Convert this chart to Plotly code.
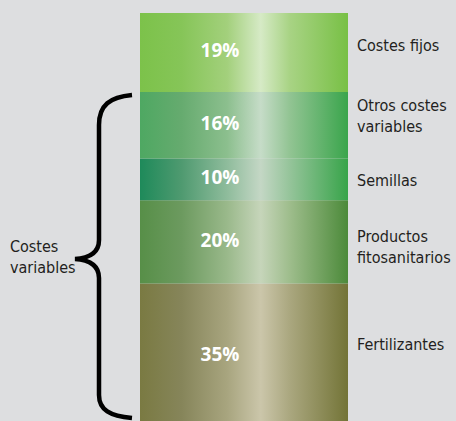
import plotly.graph_objects as go

# ---- data (bottom to top) ----
categories = ["Fertilizantes", "Productos<br>fitosanitarios", "Semillas",
              "Otros costes<br>variables", "Costes fijos"]
values = [35, 20, 10, 16, 19]
pct_labels = [f"{v}%" for v in values]
group_label = "Costes<br>variables"

# ---- style ----
BG = "#dddee0"
TXT = "#231f20"
W, H = 456, 421
SCALE = 4.16          # px per percentage unit
Y0 = 1.92             # value at bottom pixel row
BAR_L, BAR_R = 140, 348
PCT_X = 220
LABEL_FONT = dict(family="Liberation Sans Narrow, DejaVu Sans Condensed, Liberation Sans, Arial",
                  size=16, color=TXT)

gradients = [
    [(0, "#7a7a42"), (0.2, "#86855a"), (0.42, "#a8a57f"), (0.58, "#cbc6aa"), (0.72, "#aaa77f"), (1, "#737437")],
    [(0, "#578f48"), (0.2, "#6c9a5f"), (0.42, "#9ab98b"), (0.58, "#c6d5ba"), (0.72, "#9ebd8c"), (1, "#4c8a3a")],
    [(0, "#1e8a5a"), (0.2, "#4f9a70"), (0.42, "#8fbc9c"), (0.58, "#c4d7c5"), (0.72, "#95c49a"), (1, "#38a44a")],
    [(0, "#4ea862"), (0.2, "#66ab6f"), (0.42, "#8cbf8e"), (0.58, "#c6dcc8"), (0.72, "#92c493"), (1, "#3aa54c")],
    [(0, "#7cc24a"), (0.2, "#86c558"), (0.42, "#a3d07c"), (0.58, "#d6eac6"), (0.72, "#a8d384"), (1, "#78c045")],
]

def py(px):
    """pixel row -> data value"""
    return Y0 + (H - px) / SCALE

fig = go.Figure()

base = 0
mids = []
for v, grad in zip(values, gradients):
    top = base + v
    fig.add_trace(go.Scatter(
        x=[BAR_L, BAR_R, BAR_R, BAR_L, BAR_L],
        y=[base, base, top, top, base],
        mode="lines", fill="toself",
        line=dict(width=0),
        fillgradient=dict(type="horizontal", colorscale=[[s, c] for s, c in grad]),
        hoverinfo="skip", showlegend=False,
    ))
    mids.append(base + v / 2)
    base = top

fig.add_trace(go.Scatter(
    x=[PCT_X] * len(values), y=mids, mode="text", text=pct_labels,
    textfont=dict(family="Open Sans", size=19, color="white", weight="bold"),
    textposition="middle center", hoverinfo="skip", showlegend=False,
))

label_px = [344, 247, 180, 116, 45]
for cat, lp in zip(categories, label_px):
    fig.add_annotation(
        x=355, y=py(lp), text=cat, showarrow=False, xanchor="left", yanchor="middle",
        align="left", font=LABEL_FONT,
    )

fig.add_annotation(
    x=8, y=py(257), text=group_label, showarrow=False, xanchor="left", yanchor="middle",
    align="left", font=LABEL_FONT,
)

# brace
pts = [("M", [(132, 95)]),
       ("C", [(110, 97), (99, 105), (99, 125)]),
       ("L", [(99, 240)]),
       ("C", [(99, 252), (90, 258), (75, 259)]),
       ("C", [(90, 260), (99, 266), (99, 278)]),
       ("L", [(99, 395)]),
       ("C", [(99, 410), (110, 416), (132, 418)])]
path = " ".join(cmd + " " + " ".join(f"{x},{py(y):.3f}" for x, y in p) for cmd, p in pts)
fig.add_shape(type="path", path=path, xref="x", yref="y",
              line=dict(color="black", width=4.5))

fig.update_layout(
    width=W, height=H, margin=dict(l=0, r=0, t=0, b=0),
    paper_bgcolor=BG, plot_bgcolor=BG,
    xaxis=dict(range=[0, W], visible=False, fixedrange=True),
    yaxis=dict(range=[Y0, Y0 + H / SCALE], visible=False, fixedrange=True),
    showlegend=False,
)

fig.write_html("out.html", config={"displayModeBar": False},
               post_script="document.body.style.margin='0';document.body.style.background='%s';" % BG)
